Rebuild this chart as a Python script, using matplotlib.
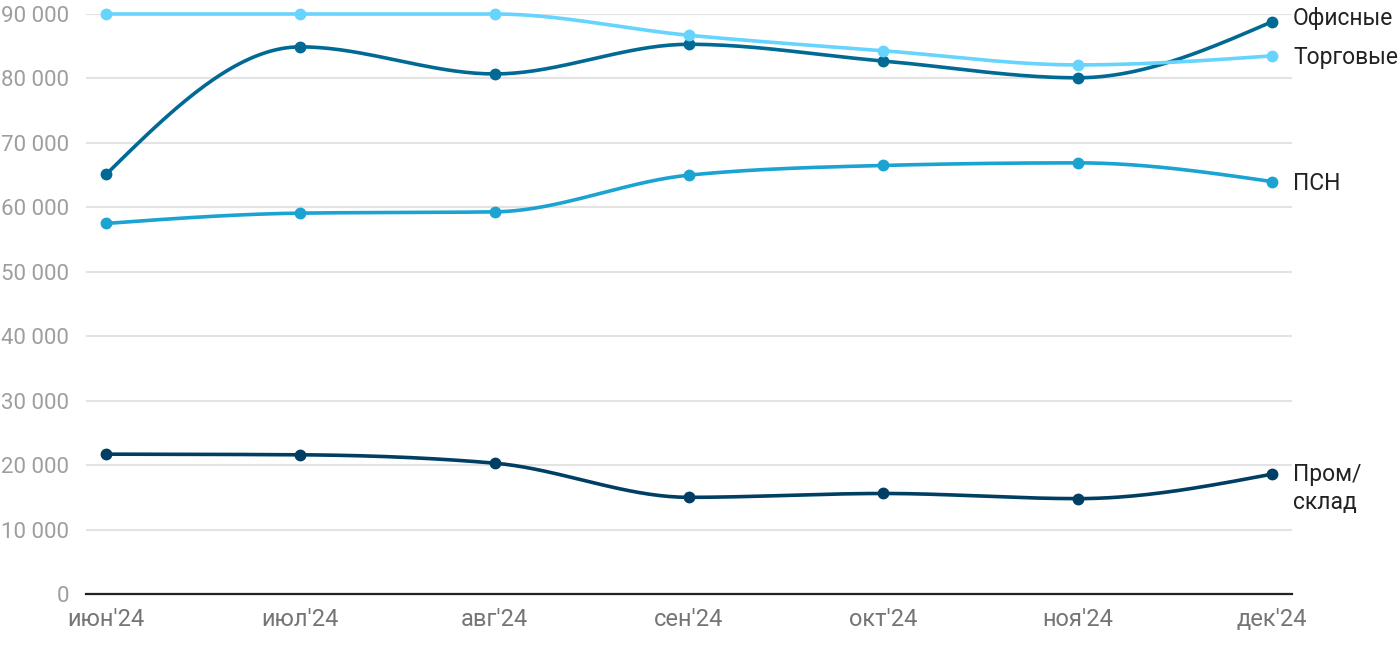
import numpy as np
import matplotlib.pyplot as plt
from matplotlib.ticker import FuncFormatter
from matplotlib.transforms import offset_copy

plt.rcParams['font.family'] = ['Roboto', 'DejaVu Sans']

# Месяцы
months = ["июн'24", "июл'24", "авг'24", "сен'24", "окт'24", "ноя'24", "дек'24"]

# Ряды (руб./кв. м)
office = [65100, 84900, 80700, 85300, 82700, 80100, 88800]
retail = [90000, 90000, 90000, 86700, 84300, 82100, 83500]
psn = [57500, 59100, 59300, 65000, 66500, 66900, 64000]
industrial = [21700, 21600, 20300, 15000, 15600, 14800, 18600]

series = [
    ('Офисные', office, '#006994'),
    ('Торговые', retail, '#66d4fd'),
    ('ПСН', psn, '#1ba3d1'),
    ('Пром/\nсклад', industrial, '#003f63'),
]


# Монотонная кубическая интерполяция (как curveMonotoneX)
def monotone_curve(y, n=40):
    y = np.asarray(y, dtype=float)
    x = np.arange(len(y), dtype=float)
    s = np.diff(y)
    t = np.zeros(len(y))
    for i in range(1, len(y) - 1):
        s0, s1 = s[i - 1], s[i]
        p = (s0 + s1) / 2
        t[i] = (np.sign(s0) + np.sign(s1)) * min(abs(s0), abs(s1), 0.5 * abs(p))
    t[0] = (3 * s[0] - t[1]) / 2
    t[-1] = (3 * s[-1] - t[-2]) / 2
    xs, ys = [], []
    for i in range(len(y) - 1):
        u = np.linspace(0, 1, n)
        h00 = 2 * u**3 - 3 * u**2 + 1
        h10 = u**3 - 2 * u**2 + u
        h01 = -2 * u**3 + 3 * u**2
        h11 = u**3 - u**2
        xs.append(x[i] + u)
        ys.append(h00 * y[i] + h10 * t[i] + h01 * y[i + 1] + h11 * t[i + 1])
    return np.concatenate(xs), np.concatenate(ys)


fig = plt.figure(figsize=(14, 6.5), dpi=100)
ax = fig.add_axes([86 / 1400, 56 / 650, 1206 / 1400, 580 / 650])

x = np.arange(len(months))
for name, vals, color in series:
    cx, cy = monotone_curve(vals)
    ax.plot(cx, cy, color=color, lw=2.6, clip_on=False, zorder=3, solid_capstyle='round')
    ax.plot(x, vals, 'o', color=color, ms=7.5, clip_on=False, zorder=4)

# Подписи рядов справа
last = len(months) - 1
fs = 16.5
for name, vals, color in series:
    if name.startswith('Пром'):
        tr = offset_copy(ax.transData, fig=fig, x=21, y=11, units='dots')
        ax.text(last, vals[-1], name, transform=tr, fontsize=fs, color='#222222',
                va='top', ha='left', linespacing=1.25)
    else:
        dy = 3 if name == 'Офисные' else -2
        tr = offset_copy(ax.transData, fig=fig, x=21, y=dy, units='dots')
        ax.text(last, vals[-1], name, transform=tr, fontsize=fs, color='#222222',
                va='center', ha='left')
    if name in ('Офисные', 'Торговые'):
        # короткий пунктир от точки к подписи
        p = ax.transData.transform((last, vals[-1]))
        fig.add_artist(plt.Line2D([(p[0] + 9) / 1400, (p[0] + 17) / 1400],
                                  [p[1] / 650, p[1] / 650],
                                  color=color, lw=1.5, ls=(0, (2.5, 2))))

ax.set_xlim(-0.103, 6.103)
ax.set_ylim(0, 90000)
ax.set_yticks(np.arange(0, 90001, 10000))
ax.yaxis.set_major_formatter(FuncFormatter(lambda v, p: f'{int(v):,}'.replace(',', ' ')))
ax.set_xticks(x)
ax.set_xticklabels(months)

ax.grid(axis='y', color='#e3e3e3', lw=1.5, zorder=0)
ax.set_axisbelow(True)
for sp in ['top', 'right', 'left']:
    ax.spines[sp].set_visible(False)
ax.spines['bottom'].set_color('#222222')
ax.spines['bottom'].set_linewidth(1.6)
ax.spines['bottom'].set_zorder(5)

ax.tick_params(axis='y', length=0, pad=12, labelsize=16, labelcolor='#9e9e9e')
ax.tick_params(axis='x', length=0, pad=10, labelsize=17, labelcolor='#757575')

fig.savefig('out.png', dpi=100)
